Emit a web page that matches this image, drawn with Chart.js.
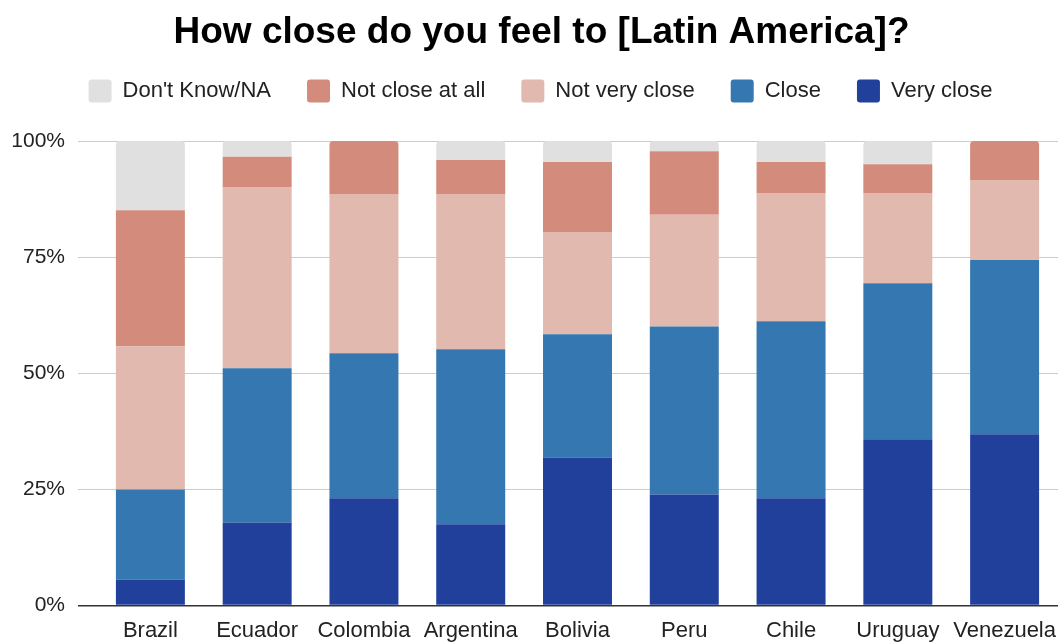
<!DOCTYPE html>
<html>
<head>
<meta charset="utf-8">
<script src="https://cdn.jsdelivr.net/npm/chart.js@4"></script>
<style>
  html, body { margin: 0; padding: 0; background: #fff; }
  #wrap { width: 1062px; height: 642px; }
</style>
</head>
<body>
<div id="wrap"><canvas id="barChart"></canvas></div>
<script>
const countries = ["Brazil", "Ecuador", "Colombia", "Argentina", "Bolivia", "Peru", "Chile", "Uruguay", "Venezuela"];
const veryClose = [5.6, 17.9, 23.1, 17.5, 31.9, 23.9, 23.1, 35.8, 36.9];
const close = [19.4, 33.2, 31.2, 37.7, 26.5, 36.2, 38.1, 33.6, 37.5];
const notVeryClose = [30.8, 39.0, 34.3, 33.4, 22.0, 24.0, 27.6, 19.4, 17.2];
const notCloseAtAll = [29.3, 6.5, 11.4, 7.3, 15.1, 13.7, 6.7, 6.2, 8.4];
const dontKnow = [14.9, 3.4, 0, 4.1, 4.5, 2.2, 4.5, 5.0, 0];
const yTicks = [0, 25, 50, 75, 100];

const font = "'Liberation Sans', Arial, sans-serif";
const allSeries = [veryClose, close, notVeryClose, notCloseAtAll, dontKnow];

// round only the top segment of each bar
function topRadius(ctx) {
  const i = ctx.dataIndex, d = ctx.datasetIndex;
  for (let k = allSeries.length - 1; k > d; k--) {
    if (allSeries[k][i] > 0) return 0;
  }
  return { topLeft: 4, topRight: 4, bottomLeft: 0, bottomRight: 0 };
}

function ds(label, data, color) {
  return {
    label: label,
    data: data,
    backgroundColor: color,
    borderWidth: 0,
    borderRadius: topRadius,
    borderSkipped: false,
    categoryPercentage: 1,
    barPercentage: 0.646
  };
}

// nudge title and legend: legend up over the gap, both a bit right
const headerShift = {
  id: "headerShift",
  afterLayout(chart) {
    const lg = chart.legend, tt = chart.titleBlock;
    lg.top -= 28.5; lg.bottom -= 28.5;
    lg.left += 11.5; lg.right += 11.5;
    tt.left += 12.5; tt.right += 12.5;
  }
};

new Chart("barChart", {
  type: "bar",
  plugins: [headerShift],
  data: {
    labels: countries,
    datasets: [
      ds("Very close", veryClose, "#21409c"),
      ds("Close", close, "#3578b1"),
      ds("Not very close", notVeryClose, "#e1b9ae"),
      ds("Not close at all", notCloseAtAll, "#d38b7c"),
      ds("Don't Know/NA", dontKnow, "#e0e0e0")
    ]
  },
  options: {
    responsive: true,
    maintainAspectRatio: false,
    animation: false,
    layout: { padding: { left: 0, right: 4, top: 0, bottom: 0 } },
    plugins: {
      title: {
        display: true,
        text: "How close do you feel to [Latin America]?",
        color: "#000",
        font: { family: font, size: 37, weight: "bold" },
        padding: { top: 11, bottom: 16.6 }
      },
      legend: {
        reverse: true,
        labels: {
          color: "#222",
          font: { family: font, size: 22 },
          boxWidth: 23,
          boxHeight: 23,
          useBorderRadius: true,
          borderRadius: 3,
          padding: 36
        }
      },
      tooltip: { enabled: false }
    },
    scales: {
      x: {
        stacked: true,
        grid: { display: false, drawTicks: false },
        border: { display: false },
        ticks: {
          color: "#222",
          font: { family: font, size: 22 },
          padding: 12,
          autoSkip: false,
          maxRotation: 0
        },
        afterFit: (s) => { s.height = 36.4; s.paddingLeft = 0; s.paddingRight = 0; }
      },
      y: {
        stacked: true,
        min: 0,
        max: 100,
        afterBuildTicks: (axis) => { axis.ticks = yTicks.map(v => ({ value: v })); },
        afterFit: (s) => { s.width = 97; },
        grid: {
          color: (c) => c.tick && c.tick.value === 0 ? "#333" : "#cccccc",
          lineWidth: (c) => c.tick && c.tick.value === 0 ? 1.5 : 1,
          tickLength: 19
        },
        border: { display: false },
        ticks: {
          color: "#222",
          font: { family: font, size: 21 },
          padding: 13,
          callback: (v) => v + "%"
        }
      }
    }
  }
});
</script>
</body>
</html>
